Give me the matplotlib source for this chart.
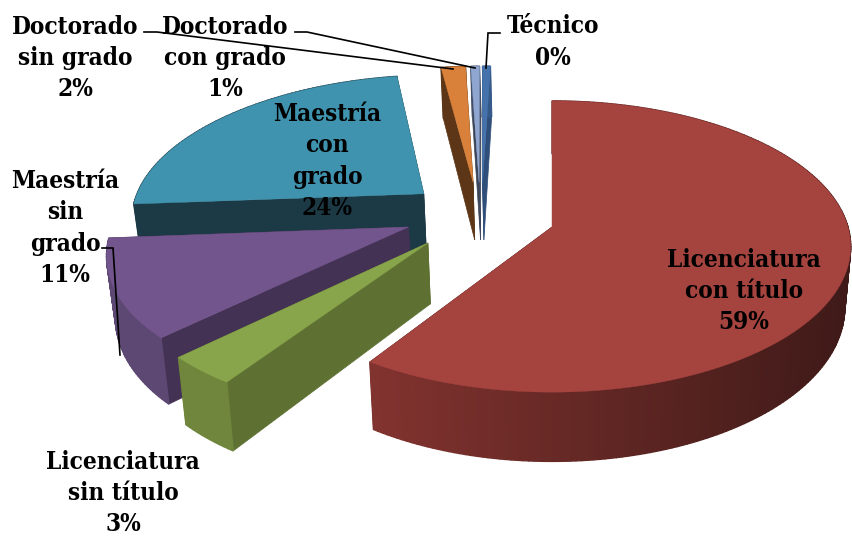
import numpy as np
import matplotlib
matplotlib.use('Agg')
from matplotlib import pyplot as plt
from matplotlib.colors import to_rgb
from matplotlib.patches import Polygon

# data, clockwise from 12 o'clock
names = ['Licenciatura\ncon título', 'Licenciatura\nsin título', 'Maestría\nsin\ngrado',
         'Maestría\ncon\ngrado', 'Doctorado\nsin grado', 'Doctorado\ncon grado', 'Técnico']
shares = [59.2, 3.4, 11.2, 23.6, 1.55, 0.55, 0.5]
percent_labels = ['59%', '3%', '11%', '24%', '2%', '1%', '0%']

# styles
top_colors = ['#a5433f', '#88a54b', '#72558c', '#3f93ae', '#d9813b', '#8fa7d0', '#4672ab']
rim_left = ['#82332f', '#6f863c', '#5c4873', '#1c3a46', '#5c3616', '#444f68', '#355a8a']
rim_right = ['#3f1a18', '#6f863c', '#5c4873', '#1c3a46', '#5c3616', '#444f68', '#355a8a']
face_colors = ['#4a1e1c', '#5e7133', '#443255', '#1c3a46', '#5c3616', '#3b4459', '#2f4f7a']
# where each exploded slice has its tip, in pie radii
origin_x = [0, -0.413, -0.485, -0.447, -0.278, -0.257, -0.245]
origin_y = [0, -0.110, 0.0, 0.240, 0.325, 0.325, 0.325]
draw_order = [6, 5, 4, 3, 2, 1, 0]

label_pos = [(744, 291), (123, 493), (65, 228), (327, 161), (75, 58), (225, 58), (553, 42)]

# projection of the pie plane
vx, vy = 552, 227
rx, ry = 296, 143
persp = 0.134
depth = 60
shrink = 0.98


def project(x, y):
    s = 1 / (1 + persp * y)
    return vx + x * rx * s, vy - y * ry * s, s


def top_point(x, y):
    px, py, s = project(x, y)
    return px, py


def low_point(x, y):
    px, py, s = project(x, y)
    return vx + (px - vx) * shrink, py + depth * s


fig = plt.figure(figsize=(8.53, 5.37), dpi=100)
ax = fig.add_axes([0, 0, 1, 1])
ax.set_xlim(0, 853)
ax.set_ylim(537, 0)
ax.axis('off')

fractions = np.array(shares) / sum(shares)
ends = np.cumsum(fractions) * 2 * np.pi
starts = ends - fractions * 2 * np.pi

for i in draw_order:
    ox = origin_x[i]
    oy = origin_y[i]
    angles = np.linspace(starts[i], ends[i], max(int(np.degrees(ends[i] - starts[i])), 4))
    xs = ox + np.sin(angles)
    ys = oy + np.cos(angles)

    # radial faces first, the top covers what is hidden
    for k in [0, -1]:
        quad = [top_point(ox, oy), top_point(xs[k], ys[k]), low_point(xs[k], ys[k]), low_point(ox, oy)]
        ax.add_patch(Polygon(quad, closed=True, fc=face_colors[i], ec=face_colors[i], lw=0.5))

    # rim with a gradient from left to right
    c0 = np.array(to_rgb(rim_left[i]))
    c1 = np.array(to_rgb(rim_right[i]))
    left = min(top_point(a, b)[0] for a, b in zip(xs, ys))
    right = max(top_point(a, b)[0] for a, b in zip(xs, ys))
    for k in range(len(angles) - 1):
        quad = [top_point(xs[k], ys[k]), top_point(xs[k + 1], ys[k + 1]),
                low_point(xs[k + 1], ys[k + 1]), low_point(xs[k], ys[k])]
        f = (quad[0][0] - left) / max(right - left, 1)
        col = c0 + (c1 - c0) * f
        ax.add_patch(Polygon(quad, closed=True, fc=col, ec=col, lw=1.0))

    outline = [top_point(ox, oy)] + [top_point(a, b) for a, b in zip(xs, ys)]
    ax.add_patch(Polygon(outline, closed=True, fc=top_colors[i], ec=top_colors[i], lw=0.3))

# leader lines
leaders = [[(500, 33), (488, 33), (486, 68)],
           [(295, 32), (307, 32), (475, 68)],
           [(144, 32), (157, 32), (453, 69)],
           [(102, 248), (113, 248), (120, 355)]]
for line in leaders:
    ax.plot([p[0] for p in line], [p[1] for p in line], color='black', lw=1.2, solid_joinstyle='miter')

for name, pct, pos in zip(names, percent_labels, label_pos):
    ax.text(pos[0], pos[1], name + '\n' + pct, ha='center', va='center', family='DejaVu Serif',
            fontweight='bold', fontsize=17.5, linespacing=1.376, color='black', stretch='condensed')

fig.savefig('out.png', dpi=100)
